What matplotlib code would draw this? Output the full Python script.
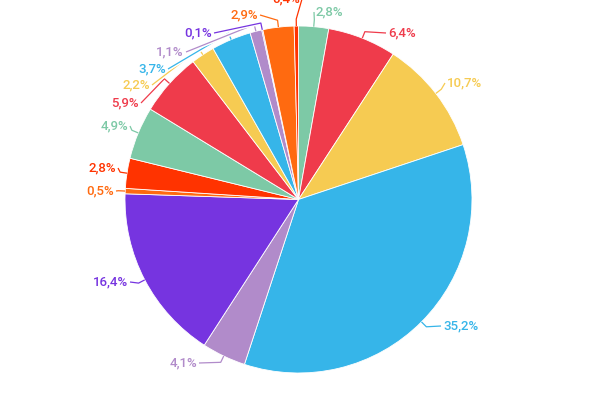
import numpy as np
import matplotlib
matplotlib.use("Agg")
from matplotlib import pyplot as plt
import matplotlib.patheffects as pe

# slice values, clockwise from 12 o'clock
values = [2.8, 6.4, 10.7, 35.2, 4.1, 16.4, 0.5, 2.8,
          4.9, 5.9, 2.2, 3.7, 1.1, 0.1, 2.9, 0.4]
labels = ["2,8%", "6,4%", "10,7%", "35,2%", "4,1%", "16,4%", "0,5%", "2,8%",
          "4,9%", "5,9%", "2,2%", "3,7%", "1,1%", "0,1%", "2,9%", "0,4%"]

palette = ["#7dc9a6", "#ef3b4b", "#f6cb52", "#36b5e9",
           "#b18bca", "#7634e0", "#ff6a10", "#ff3300"]
colors = [palette[i % len(palette)] for i in range(len(values))]

# label anchor in pixels (x of the text edge nearest the pie, y centre), side
label_pos = [(316, 12, "l"), (388, 33, "l"), (447, 83, "l"), (443, 326, "l"),
             (197, 363, "r"), (128, 282, "r"), (114, 191, "r"), (116, 168, "r"),
             (128, 126, "r"), (139, 103, "r"), (150, 85, "r"), (166, 69, "r"),
             (184, 52, "r"), (212, 33, "r"), (258, 15, "r"), (300, -1, "r")]

W, H = 600, 400
CX, CY, R = 298.5, 199.5, 173.5

plt.rcParams['font.family'] = ['Roboto', 'DejaVu Sans']

fig = plt.figure(figsize=(6, 4), dpi=100)
ax = fig.add_axes([0, 0, 1, 1])

wedges, _ = ax.pie(values, colors=colors, startangle=90, counterclock=False,
                   radius=1.0, wedgeprops=dict(edgecolor="white", linewidth=0.6))

ax.set_xlim(-CX / R, (W - CX) / R)
ax.set_ylim(-(H - CY) / R, CY / R)
ax.axis("off")

halo = [pe.withStroke(linewidth=3, foreground="white")]
for w, lab, col, (px, py, side) in zip(wedges, labels, colors, label_pos):
    mid = np.deg2rad((w.theta1 + w.theta2) / 2)
    x0, y0 = np.cos(mid), np.sin(mid)
    x1, y1 = 1.04 * x0, 1.04 * y0
    tx = (px - CX) / R
    ty = (CY - py) / R
    gap = 2 / R
    ex = tx - gap if side == "l" else tx + gap
    ax.plot([x0, x1, ex], [y0, y1, ty], color=col, lw=0.9,
            solid_capstyle="butt", path_effects=halo, zorder=3)
    ax.text(tx, ty, lab, color=col, fontsize=9.5, fontweight="medium",
            ha="left" if side == "l" else "right", va="center", zorder=4)

fig.savefig("out.png", dpi=100, facecolor="white")
